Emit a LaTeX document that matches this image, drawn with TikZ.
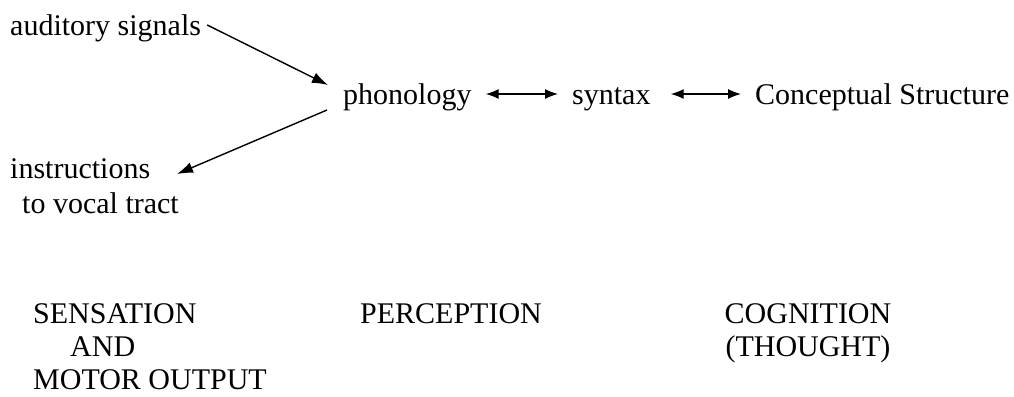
\documentclass[tikz,border=0pt]{standalone}
\usepackage{fontspec}
\setmainfont{Liberation Serif}
\usetikzlibrary{arrows.meta}
\begin{document}
\begin{tikzpicture}[x=1pt,y=-1pt,
  lbl/.style={anchor=base west,inner sep=0pt,font=\fontsize{30}{33}\selectfont},
  block/.style={inner sep=0pt,font=\fontsize{30}{33}\selectfont},
  arr/.style={line width=1.4pt,-{Latex[length=16pt,width=11pt]}},
  biarr/.style={line width=1.4pt,{Latex[length=13pt,width=10pt]}-{Latex[length=13pt,width=10pt]}}]
\useasboundingbox[fill=white] (0,0) rectangle (1014,396);

% language faculty row
\node[lbl] (aud) at (10,36) {auditory signals};
\node[lbl] (phon) at (343,104) {phonology};
\node[lbl] (syn) at (572,104) {syntax};
\node[lbl] (cs) at (755,104) {Conceptual Structure};
% two-line label, placed by the top of its first line
\node[block,anchor=north west,align=left,font=\fontsize{30}{35}\selectfont] (instr) at (10,158.5)
  {instructions\\\hspace*{12pt}to vocal tract};

% connectors
\draw[arr] ([shift={(6,-11)}]aud.base east) -- ([shift={(-15,-19)}]phon.base west);
\draw[arr] ([shift={(-16,6)}]phon.base west) -- ([shift={(167,15.5)}]instr.north west);
\draw[biarr] ([shift={(14,-10)}]phon.base east) -- ([shift={(-14,-10)}]syn.base west);
\draw[biarr] ([shift={(20,-10)}]syn.base east) -- ([shift={(-14,-10)}]cs.base west);

% levels
\node[block,anchor=north west,align=left] (sens) at (33,303)
  {SENSATION\\\hspace*{37pt}AND\\MOTOR OUTPUT};
\node[lbl] (perc) at (360,323) {PERCEPTION};
\node[block,anchor=north,align=center] (cogn) at (808,303) {COGNITION\\(THOUGHT)};
\end{tikzpicture}
\end{document}
